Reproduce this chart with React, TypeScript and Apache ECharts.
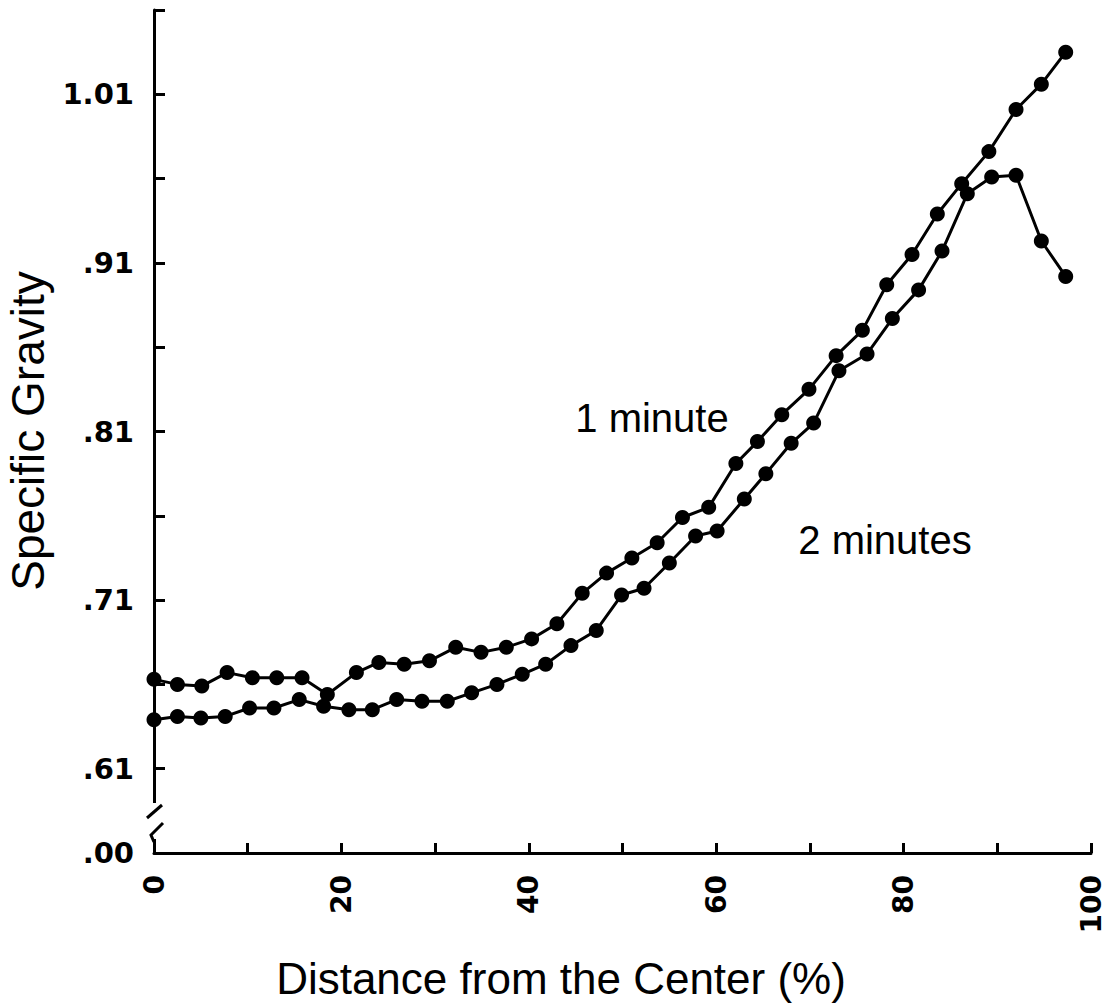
import React, { useEffect, useRef } from "react";
import * as echarts from "echarts";

// 1 minute series
const x1Minute = [0, 2.5, 5.1, 7.8, 10.5, 13.1, 15.8, 18.5, 21.6, 24.0, 26.7, 29.4, 32.2, 34.9, 37.6, 40.3, 43.0, 45.7, 48.3, 51.0, 53.7, 56.4, 59.2, 62.1, 64.4, 67.0, 69.9, 72.8, 75.6, 78.2, 80.9, 83.6, 86.2, 89.1, 92.0, 94.7, 97.3];
const y1Minute = [0.663, 0.660, 0.659, 0.667, 0.664, 0.664, 0.664, 0.654, 0.667, 0.673, 0.672, 0.674, 0.682, 0.679, 0.682, 0.687, 0.696, 0.714, 0.726, 0.735, 0.744, 0.759, 0.765, 0.791, 0.804, 0.820, 0.835, 0.855, 0.870, 0.897, 0.915, 0.939, 0.957, 0.976, 1.001, 1.016, 1.035];

// 2 minutes series
const x2Minutes = [0, 2.5, 5.0, 7.6, 10.2, 12.8, 15.5, 18.1, 20.8, 23.3, 25.9, 28.6, 31.3, 33.9, 36.6, 39.3, 41.8, 44.5, 47.2, 49.9, 52.3, 55.0, 57.8, 60.1, 63.0, 65.3, 68.0, 70.4, 73.1, 76.1, 78.8, 81.6, 84.1, 86.8, 89.4, 92.0, 94.7, 97.3];
const y2Minutes = [0.639, 0.641, 0.640, 0.641, 0.646, 0.646, 0.651, 0.647, 0.645, 0.645, 0.651, 0.650, 0.650, 0.655, 0.660, 0.666, 0.672, 0.683, 0.692, 0.713, 0.717, 0.732, 0.748, 0.751, 0.770, 0.785, 0.803, 0.815, 0.846, 0.856, 0.877, 0.894, 0.917, 0.951, 0.961, 0.962, 0.923, 0.902];

// y tick labels (axis drawn in shifted units: value - 0.01, so .61 sits on 0.60)
const yShift = 0.01;
const yTickLabels: Record<number, string> = { 55: ".00", 60: ".61", 70: ".71", 80: ".81", 90: ".91", 100: "1.01" };
const xTickLabels = [0, 20, 40, 60, 80, 100];

const seriesNames = ["1 minute", "2 minutes"];

export default function App() {
  const ref = useRef<HTMLDivElement>(null);
  useEffect(() => {
    if (!ref.current) return;
    const chart = echarts.init(ref.current, null, { renderer: "svg" });
    const gl = 154, gt = 10, gw = 937, gh = 843;
    const black = "#000";
    const d1 = x1Minute.map((x, i) => [x, y1Minute[i] - yShift]);
    const d2 = x2Minutes.map((x, i) => [x, y2Minutes[i] - yShift]);
    chart.setOption({
      animation: false,
      backgroundColor: "#fff",
      grid: { left: gl, top: gt, width: gw, height: gh, containLabel: false },
      xAxis: {
        type: "value",
        min: 0,
        max: 100,
        interval: 10,
        axisLine: { show: true, lineStyle: { color: black, width: 3 } },
        axisTick: { show: true, inside: true, length: 10, lineStyle: { color: black, width: 3 } },
        splitLine: { show: false },
        axisLabel: {
          rotate: 90,
          margin: 22,
          color: black,
          fontFamily: "DejaVu Sans",
          fontWeight: "bold",
          fontSize: 28,
          formatter: (v: number) => (xTickLabels.includes(Math.round(v)) ? String(Math.round(v)) : ""),
        },
      },
      yAxis: {
        type: "value",
        min: 0.55,
        max: 1.05,
        interval: 0.05,
        axisLine: { show: true, lineStyle: { color: black, width: 3 } },
        axisTick: { show: true, inside: true, length: 11, lineStyle: { color: black, width: 3 } },
        splitLine: { show: false },
        axisLabel: {
          margin: 20,
          color: black,
          fontFamily: "DejaVu Sans",
          fontWeight: "bold",
          fontSize: 29,
          formatter: (v: number) => yTickLabels[Math.round(v * 100)] ?? "",
        },
      },
      series: [
        {
          name: seriesNames[0],
          type: "line",
          data: d1,
          symbol: "circle",
          symbolSize: 15,
          lineStyle: { color: black, width: 3 },
          itemStyle: { color: black },
          z: 3,
        },
        {
          name: seriesNames[1],
          type: "line",
          data: d2,
          symbol: "circle",
          symbolSize: 15,
          lineStyle: { color: black, width: 3 },
          itemStyle: { color: black },
          z: 3,
        },
      ],
      graphic: [
        { type: "rect", z: 100, shape: { x: 144, y: 803, width: 20, height: 36 }, style: { fill: "#fff" } },
        { type: "line", z: 101, shape: { x1: 147, y1: 818, x2: 162, y2: 805 }, style: { stroke: black, lineWidth: 3 } },
        { type: "polyline", z: 101, shape: { points: [[163, 823], [151, 835], [154, 842]] }, style: { stroke: black, lineWidth: 3, fill: "none" } },
        {
          type: "text", z: 102, x: 652, y: 418,
          style: { text: seriesNames[0], fill: black, font: "40px 'Liberation Sans'", textAlign: "center", textVerticalAlign: "middle" },
        },
        {
          type: "text", z: 102, x: 885, y: 540,
          style: { text: seriesNames[1], fill: black, font: "40px 'Liberation Sans'", textAlign: "center", textVerticalAlign: "middle" },
        },
        {
          type: "text", z: 102, x: 561, y: 978,
          style: { text: "Distance from the Center (%)", fill: black, font: "44px 'Liberation Sans'", textAlign: "center", textVerticalAlign: "middle" },
        },
        {
          type: "text", z: 102, x: 28, y: 431, rotation: Math.PI / 2,
          style: { text: "Specific Gravity", fill: black, font: "46px 'Liberation Sans'", textAlign: "center", textVerticalAlign: "middle" },
        },
      ],
    });
    return () => chart.dispose();
  }, []);
  return <div ref={ref} style={{ position: "absolute", left: 0, top: 0, width: 1112, height: 1007 }} />;
}
